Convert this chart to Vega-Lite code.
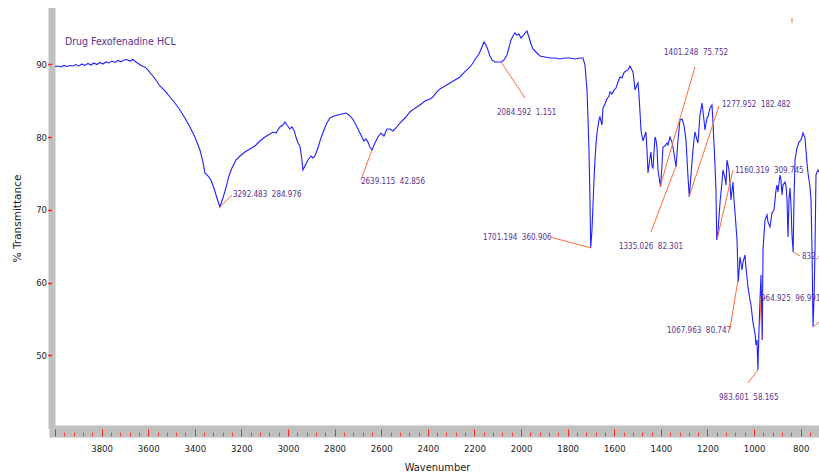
{
  "$schema": "https://vega.github.io/schema/vega-lite/v6.json",
  "width": 764,
  "height": 414,
  "autosize": {"type": "none"},
  "padding": {"left": 55, "top": 11, "right": 0, "bottom": 49},
  "background": "white",
  "config": {"view": {"stroke": null}},
  "datasets": {
    "spectrum": [
      {"w":4000,"t":89.70},{"w":3987.6,"t":89.77},{"w":3974.7,"t":89.63},{"w":3961.8,"t":89.84},{"w":3948.9,"t":89.70},{"w":3936.1,"t":89.84},{"w":3923.2,"t":89.77},{"w":3910.3,"t":89.97},{"w":3897.4,"t":89.77},{"w":3884.6,"t":90.04},{"w":3871.7,"t":89.84},{"w":3858.8,"t":90.11},{"w":3845.9,"t":89.90},{"w":3833.1,"t":90.18},{"w":3820.2,"t":89.97},{"w":3807.3,"t":90.25},{"w":3794.4,"t":90.04},{"w":3781.6,"t":90.32},{"w":3768.7,"t":90.18},{"w":3755.8,"t":90.45},{"w":3742.9,"t":90.25},{"w":3730.1,"t":90.52},{"w":3717.2,"t":90.32},{"w":3704.3,"t":90.59},{"w":3691.4,"t":90.66},{"w":3678.6,"t":90.45},{"w":3665.7,"t":90.66},{"w":3652.8,"t":90.32},{"w":3639.9,"t":90.04},{"w":3627.0,"t":89.77},{"w":3614.2,"t":89.63},{"w":3601.3,"t":89.22},{"w":3592.7,"t":88.86},{"w":3579.8,"t":88.39},{"w":3567.0,"t":87.84},{"w":3549.8,"t":87.02},{"w":3536.9,"t":86.61},{"w":3524.0,"t":86.20},{"w":3506.9,"t":85.51},{"w":3485.4,"t":84.68},{"w":3464.0,"t":83.72},{"w":3442.5,"t":82.62},{"w":3421.0,"t":81.39},{"w":3399.6,"t":80.01},{"w":3378.1,"t":78.23},{"w":3365.2,"t":76.58},{"w":3356.7,"t":75.07},{"w":3343.8,"t":74.66},{"w":3330.9,"t":74.11},{"w":3318.0,"t":73.01},{"w":3305.2,"t":71.63},{"w":3292.5,"t":70.40},{"w":3279.4,"t":71.63},{"w":3266.5,"t":73.01},{"w":3253.7,"t":74.66},{"w":3240.8,"t":75.76},{"w":3223.6,"t":76.85},{"w":3206.4,"t":77.40},{"w":3185.0,"t":77.95},{"w":3163.5,"t":78.37},{"w":3142.1,"t":78.78},{"w":3120.6,"t":79.46},{"w":3099.2,"t":80.01},{"w":3077.7,"t":80.43},{"w":3064.8,"t":80.70},{"w":3051.9,"t":80.56},{"w":3034.8,"t":81.39},{"w":3021.9,"t":81.66},{"w":3013.3,"t":82.07},{"w":3004.7,"t":81.66},{"w":2991.9,"t":81.11},{"w":2983.3,"t":81.39},{"w":2974.7,"t":80.97},{"w":2966.1,"t":80.01},{"w":2957.5,"t":79.19},{"w":2948.9,"t":78.78},{"w":2940.4,"t":76.85},{"w":2936.1,"t":75.48},{"w":2927.5,"t":76.03},{"w":2914.6,"t":76.85},{"w":2901.7,"t":77.40},{"w":2893.2,"t":77.13},{"w":2884.6,"t":77.40},{"w":2871.7,"t":78.50},{"w":2858.8,"t":79.88},{"w":2845.9,"t":80.97},{"w":2833.1,"t":81.93},{"w":2820.2,"t":82.62},{"w":2803.0,"t":82.90},{"w":2785.9,"t":83.04},{"w":2768.7,"t":83.17},{"w":2751.5,"t":83.31},{"w":2738.6,"t":83.04},{"w":2725.8,"t":82.62},{"w":2712.9,"t":81.93},{"w":2700.0,"t":81.11},{"w":2687.1,"t":80.29},{"w":2674.3,"t":79.46},{"w":2665.7,"t":79.74},{"w":2657.1,"t":79.31},{"w":2648.5,"t":78.64},{"w":2639.1,"t":78.23},{"w":2627.1,"t":79.19},{"w":2614.2,"t":80.01},{"w":2601.3,"t":80.56},{"w":2588.4,"t":80.15},{"w":2575.6,"t":81.11},{"w":2562.7,"t":81.11},{"w":2549.8,"t":80.84},{"w":2536.9,"t":81.25},{"w":2519.8,"t":81.93},{"w":2498.3,"t":82.62},{"w":2476.8,"t":83.45},{"w":2455.4,"t":83.97},{"w":2433.9,"t":84.41},{"w":2412.5,"t":84.96},{"w":2391.0,"t":85.23},{"w":2378.1,"t":85.51},{"w":2365.3,"t":86.06},{"w":2348.1,"t":86.61},{"w":2326.6,"t":87.02},{"w":2305.2,"t":87.43},{"w":2283.7,"t":87.84},{"w":2262.3,"t":88.26},{"w":2245.1,"t":88.86},{"w":2232.2,"t":89.22},{"w":2219.3,"t":89.63},{"w":2206.5,"t":90.18},{"w":2193.6,"t":90.87},{"w":2180.7,"t":91.41},{"w":2167.8,"t":92.37},{"w":2159.3,"t":93.06},{"w":2150.7,"t":92.65},{"w":2142.1,"t":91.96},{"w":2133.5,"t":91.14},{"w":2124.9,"t":90.59},{"w":2112.0,"t":90.32},{"w":2099.2,"t":90.32},{"w":2084.6,"t":90.32},{"w":2073.4,"t":90.59},{"w":2060.5,"t":91.28},{"w":2052.0,"t":92.24},{"w":2043.4,"t":93.34},{"w":2034.8,"t":93.89},{"w":2026.2,"t":94.30},{"w":2017.6,"t":94.02},{"w":2009.0,"t":94.16},{"w":2000.5,"t":93.61},{"w":1991.9,"t":93.89},{"w":1983.3,"t":94.30},{"w":1974.7,"t":94.57},{"w":1966.1,"t":93.75},{"w":1957.5,"t":92.79},{"w":1949.0,"t":92.10},{"w":1936.1,"t":91.69},{"w":1918.9,"t":91.14},{"w":1897.5,"t":91.00},{"w":1876.0,"t":90.87},{"w":1854.5,"t":90.87},{"w":1833.1,"t":90.73},{"w":1811.6,"t":90.87},{"w":1790.2,"t":90.87},{"w":1768.7,"t":90.73},{"w":1747.2,"t":90.87},{"w":1734.4,"t":90.87},{"w":1725.8,"t":89.90},{"w":1717.2,"t":86.47},{"w":1712.9,"t":82.76},{"w":1708.6,"t":78.23},{"w":1704.3,"t":71.36},{"w":1701.2,"t":64.77},{"w":1695.7,"t":67.24},{"w":1691.4,"t":70.67},{"w":1687.1,"t":74.11},{"w":1682.9,"t":76.85},{"w":1678.6,"t":78.92},{"w":1674.3,"t":80.56},{"w":1665.7,"t":82.35},{"w":1661.4,"t":82.76},{"w":1652.8,"t":81.66},{"w":1648.5,"t":83.97},{"w":1639.9,"t":84.55},{"w":1631.4,"t":85.23},{"w":1622.8,"t":85.64},{"w":1618.5,"t":86.20},{"w":1609.9,"t":85.92},{"w":1601.3,"t":86.47},{"w":1592.7,"t":86.74},{"w":1584.1,"t":87.57},{"w":1575.6,"t":88.26},{"w":1567.0,"t":88.12},{"w":1558.4,"t":88.86},{"w":1549.8,"t":89.08},{"w":1541.2,"t":89.22},{"w":1532.6,"t":89.77},{"w":1524.1,"t":89.22},{"w":1519.8,"t":88.94},{"w":1515.5,"t":87.84},{"w":1511.2,"t":86.47},{"w":1502.6,"t":87.16},{"w":1498.3,"t":87.43},{"w":1494.0,"t":85.78},{"w":1489.7,"t":83.45},{"w":1485.4,"t":80.97},{"w":1476.9,"t":79.46},{"w":1468.3,"t":80.29},{"w":1464.0,"t":80.70},{"w":1459.7,"t":78.23},{"w":1455.4,"t":75.07},{"w":1446.8,"t":77.13},{"w":1442.5,"t":77.95},{"w":1438.2,"t":76.03},{"w":1433.9,"t":75.76},{"w":1425.4,"t":80.01},{"w":1421.1,"t":79.60},{"w":1416.8,"t":78.64},{"w":1412.5,"t":75.48},{"w":1401.2,"t":73.14},{"w":1395.3,"t":76.17},{"w":1391.0,"t":78.64},{"w":1382.4,"t":78.78},{"w":1373.9,"t":79.19},{"w":1369.6,"t":78.92},{"w":1361.0,"t":80.01},{"w":1352.4,"t":79.31},{"w":1348.1,"t":78.64},{"w":1339.5,"t":76.85},{"w":1335.0,"t":75.89},{"w":1326.6,"t":79.60},{"w":1318.1,"t":82.35},{"w":1309.5,"t":82.49},{"w":1300.9,"t":81.66},{"w":1292.3,"t":79.60},{"w":1283.7,"t":74.52},{"w":1278.0,"t":71.77},{"w":1270.9,"t":74.79},{"w":1262.3,"t":78.23},{"w":1258.0,"t":79.60},{"w":1253.7,"t":80.70},{"w":1245.1,"t":79.60},{"w":1240.8,"t":79.19},{"w":1232.2,"t":83.04},{"w":1223.6,"t":84.68},{"w":1215.1,"t":82.35},{"w":1210.8,"t":80.97},{"w":1202.2,"t":82.62},{"w":1197.9,"t":82.76},{"w":1189.3,"t":83.97},{"w":1180.7,"t":84.41},{"w":1176.4,"t":81.93},{"w":1167.8,"t":76.17},{"w":1163.6,"t":72.73},{"w":1160.3,"t":65.87},{"w":1155.0,"t":66.96},{"w":1146.4,"t":70.95},{"w":1137.8,"t":73.83},{"w":1133.5,"t":75.48},{"w":1124.9,"t":74.38},{"w":1120.6,"t":73.42},{"w":1116.3,"t":76.85},{"w":1107.8,"t":75.48},{"w":1103.5,"t":73.69},{"w":1099.2,"t":71.36},{"w":1090.6,"t":73.83},{"w":1086.3,"t":71.36},{"w":1082.0,"t":69.71},{"w":1073.4,"t":65.87},{"w":1068.0,"t":60.10},{"w":1060.5,"t":63.53},{"w":1052.0,"t":61.74},{"w":1047.7,"t":62.84},{"w":1039.1,"t":63.81},{"w":1034.8,"t":62.02},{"w":1026.2,"t":59.41},{"w":1017.6,"t":57.62},{"w":1013.3,"t":56.94},{"w":1004.8,"t":54.46},{"w":1000.5,"t":53.78},{"w":996.2,"t":53.09},{"w":991.9,"t":51.44},{"w":987.6,"t":52.13},{"w":983.6,"t":48.01},{"w":979.0,"t":53.50},{"w":974.7,"t":57.62},{"w":970.4,"t":61.06},{"w":964.9,"t":52.13},{"w":961.8,"t":64.49},{"w":957.5,"t":66.55},{"w":953.3,"t":68.61},{"w":944.7,"t":69.30},{"w":940.4,"t":68.34},{"w":931.8,"t":67.65},{"w":927.5,"t":68.61},{"w":923.2,"t":69.57},{"w":914.6,"t":69.99},{"w":906.0,"t":72.73},{"w":901.8,"t":73.42},{"w":897.5,"t":72.46},{"w":888.9,"t":74.79},{"w":884.6,"t":74.11},{"w":880.3,"t":72.05},{"w":876.0,"t":73.42},{"w":867.4,"t":73.83},{"w":863.1,"t":73.28},{"w":858.8,"t":71.36},{"w":854.5,"t":66.28},{"w":850.3,"t":71.36},{"w":846.0,"t":73.01},{"w":841.7,"t":70.67},{"w":837.4,"t":66.55},{"w":832.5,"t":64.22},{"w":828.8,"t":71.36},{"w":824.5,"t":76.85},{"w":815.9,"t":78.50},{"w":807.3,"t":79.31},{"w":798.8,"t":79.60},{"w":790.2,"t":80.56},{"w":781.6,"t":79.88},{"w":777.3,"t":78.23},{"w":773.0,"t":76.44},{"w":768.7,"t":75.07},{"w":760.1,"t":73.14},{"w":755.8,"t":71.36},{"w":751.5,"t":64.49},{"w":747.2,"t":53.92},{"w":743.0,"t":57.62},{"w":738.7,"t":64.49},{"w":734.4,"t":74.79},{"w":730.1,"t":75.21},{"w":725.8,"t":75.48},{"w":721.5,"t":75.21}
    ],
    "labels": [
      {"w":3236.5,"t":72.05,"label":"3292.483\u00a0 284.976"},
      {"w":2687.1,"t":73.83,"label":"2639.115\u00a0 42.856"},
      {"w":2103.5,"t":83.31,"label":"2084.592\u00a0 1.151"},
      {"w":2163.5,"t":66.14,"label":"1701.194\u00a0 360.906"},
      {"w":1386.7,"t":91.55,"label":"1401.248\u00a0 75.752"},
      {"w":1579.9,"t":64.90,"label":"1335.026\u00a0 82.301"},
      {"w":1137.8,"t":84.41,"label":"1277.952\u00a0 182.482"},
      {"w":1082.0,"t":75.34,"label":"1160.319\u00a0 309.745"},
      {"w":1373.9,"t":53.37,"label":"1067.963\u00a0 80.747"},
      {"w":1150.7,"t":44.16,"label":"983.601\u00a0 58.165"},
      {"w":970.4,"t":57.76,"label":"964.925\u00a0 96.991"},
      {"w":794.5,"t":63.53,"label":"832.4"}
    ],
    "leaders": [
      {"w":3292.3,"t":70.40,"w2":3240.8,"t2":72.05},
      {"w":2639.9,"t":78.23,"w2":2687.1,"t2":74.11},
      {"w":2086.3,"t":90.32,"w2":1983.3,"t2":85.37},
      {"w":1876.0,"t":66.28,"w2":1700.0,"t2":64.77},
      {"w":1253.7,"t":89.63,"w2":1403.9,"t2":73.14},
      {"w":1442.5,"t":66.96,"w2":1335.2,"t2":76.03},
      {"w":1150.7,"t":84.27,"w2":1279.4,"t2":71.77},
      {"w":1090.6,"t":75.48,"w2":1159.3,"t2":65.87},
      {"w":1103.5,"t":53.64,"w2":1069.1,"t2":60.37},
      {"w":1026.2,"t":46.22,"w2":983.3,"t2":48.01},
      {"w":966.1,"t":52.13,"w2":974.7,"t2":58.03},
      {"w":833.1,"t":64.22,"w2":803.0,"t2":63.67},
      {"w":747.2,"t":53.92,"w2":708.6,"t2":54.88},
      {"w":837.4,"t":96.36,"w2":837.4,"t2":95.67}
    ],
    "heading": [
      {"w":3957.5,"t":93.06,"label":"Drug Fexofenadine HCL"}
    ]
  },
  "resolve": {"axis": {"x": "independent", "y": "independent"}},
  "layer": [
    {
      "data": {"name": "spectrum"},
      "mark": {"type": "line", "color": "#2020ff", "strokeWidth": 1.1, "clip": true, "interpolate": "linear"},
      "encoding": {
        "x": {"field": "w", "type": "quantitative", "sort": null,
          "scale": {"domain": [4000, 721.5], "nice": false, "zero": false},
          "axis": {"orient": "bottom", "offset": 6, "domainColor": "#c0c0c0", "domainWidth": 12, "domainCap": "square", "ticks": false, "labels": false, "grid": false,
            "title": "Wavenumber", "titleFont": "DejaVu Sans Condensed, sans-serif", "titleFontSize": 11, "titleFontWeight": "normal", "titleColor": "#222", "titlePadding": 30}},
        "y": {"field": "t", "type": "quantitative",
          "scale": {"domain": [40.45, 97.32], "nice": false, "zero": false},
          "axis": {"orient": "left", "offset": 3.5, "domainColor": "#c0c0c0", "domainWidth": 7, "domainCap": "square", "ticks": false, "labels": false, "grid": false,
            "title": "% Transmittance", "titleFont": "DejaVu Sans, sans-serif", "titleFontSize": 10.5, "titleFontWeight": "normal", "titleColor": "#222", "titlePadding": 29}},
        "order": {"value": 0}
      }
    },
    {
      "data": {"name": "labels"},
      "mark": {"type": "text", "align": "left", "baseline": "middle", "color": "#5b3190", "font": "DejaVu Sans Condensed, sans-serif", "fontSize": 8, "clip": true},
      "encoding": {
        "x": {"field": "w", "type": "quantitative",
          "scale": {"domain": [4000, 721.5], "nice": false, "zero": false},
          "axis": {"orient": "bottom", "offset": 4, "domain": false, "grid": false, "tickColor": "#ff2020", "tickSize": 7, "tickWidth": 1,
            "values": [4000,3800,3600,3400,3200,3000,2800,2600,2400,2200,2000,1800,1600,1400,1200,1000,800],
            "format": "d", "labelExpr": "datum.value == 4000 ? '' : datum.label",
            "labelFont": "DejaVu Sans Condensed, sans-serif", "labelFontSize": 9.5, "labelColor": "#222", "labelPadding": 7, "labelFlush": false, "labelOverlap": false, "title": null}},
        "y": {"field": "t", "type": "quantitative",
          "scale": {"domain": [40.45, 97.32], "nice": false, "zero": false},
          "axis": {"orient": "left", "offset": 3.5, "domain": false, "grid": false, "tickColor": "#ff2020", "tickSize": 4, "tickWidth": 1.5,
            "values": [50,60,70,80,90],
            "labelFont": "DejaVu Sans Condensed, sans-serif", "labelFontSize": 9.5, "labelColor": "#222", "labelPadding": 1, "title": null}},
        "text": {"field": "label"}
      }
    },
    {
      "data": {"name": "leaders"},
      "mark": {"type": "rule", "color": "#ff6a3d", "strokeWidth": 1, "clip": true},
      "encoding": {
        "x": {"field": "w", "type": "quantitative",
          "scale": {"domain": [4000, 721.5], "nice": false, "zero": false},
          "axis": {"orient": "bottom", "offset": 7, "domain": false, "grid": false, "labels": false, "tickColor": "#ff4040", "tickSize": 4, "tickWidth": 1,
            "values": [3960,3920,3880,3840,3760,3720,3680,3640,3560,3520,3480,3440,3360,3320,3280,3240,3160,3120,3080,3040,2960,2920,2880,2840,2760,2720,2680,2640,2560,2520,2480,2440,2360,2320,2280,2240,2160,2120,2080,2040,1960,1920,1880,1840,1760,1720,1680,1640,1560,1520,1480,1440,1360,1320,1280,1240,1160,1120,1080,1040,960,920,880,840,760],
            "title": null}},
        "x2": {"field": "w2"},
        "y": {"field": "t", "type": "quantitative",
          "scale": {"domain": [40.45, 97.32], "nice": false, "zero": false},
          "axis": null},
        "y2": {"field": "t2"}
      }
    },
    {
      "data": {"name": "heading"},
      "mark": {"type": "text", "align": "left", "baseline": "middle", "color": "#5b3190", "font": "DejaVu Sans Condensed, sans-serif", "fontSize": 10.5},
      "encoding": {
        "x": {"field": "w", "type": "quantitative", "scale": {"domain": [4000, 721.5], "nice": false, "zero": false}, "axis": null},
        "y": {"field": "t", "type": "quantitative", "scale": {"domain": [40.45, 97.32], "nice": false, "zero": false}, "axis": null},
        "text": {"field": "label"}
      }
    }
  ]
}
